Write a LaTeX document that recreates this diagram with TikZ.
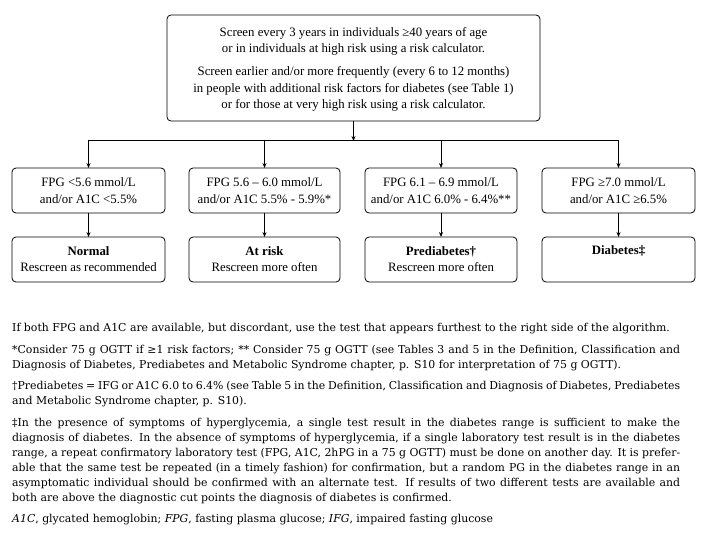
\documentclass[tikz,border=0pt]{standalone}
\usepackage{fontspec}
\setmainfont{Liberation Serif}
\newfontfamily\notefont{DejaVu Serif}
\usetikzlibrary{arrows.meta}
\begin{document}
\begin{tikzpicture}[x=1pt,y=-1pt,
  bx/.style={draw,rounded corners=4pt,line width=0.8pt},
  arr/.style={-{Stealth[length=5pt,width=4pt]},line width=0.8pt},
  bt/.style={font=\fontsize{12.8}{16.5}\selectfont,align=center,inner sep=0pt},
  ft/.style={font=\notefont\fontsize{10.9}{15}\selectfont,anchor=north west,inner sep=0pt,text width=668pt,align=justify}]
\useasboundingbox (0,0) rectangle (707,533);
\draw[bx] (167,15) rectangle (540,121);
\node[bt] (t1) at (353.5,41.5) {Screen every 3 years in individuals ≥40 years of age\\or in individuals at high risk using a risk calculator.};
\node[bt] (t2) at (353.5,89) {Screen earlier and/or more frequently (every 6 to 12 months)\\in people with additional risk factors for diabetes (see Table 1)\\or for those at very high risk using a risk calculator.};
\coordinate (top) at (353.5,121);
\coordinate (j) at (353.5,140);
\draw[line width=0.8pt] (top) -- (j);
\draw[arr] (353.5,139) -- (353.5,141);
\foreach \i/\xa/\xb in {1/12/165,2/189/340,3/365/517,4/542/695}{
  \draw[bx] (\xa,168) rectangle (\xb,213);
  \draw[bx] (\xa,237) rectangle (\xb,282);
  \coordinate (c\i) at ({(\xa+\xb)/2},140);
  \coordinate (a\i) at ({(\xa+\xb)/2},168);
  \coordinate (b\i) at ({(\xa+\xb)/2},213);
  \coordinate (d\i) at ({(\xa+\xb)/2},237);
  \draw[arr] (c\i) -- (a\i);
  \draw[arr] (b\i) -- (d\i);
}
\draw[line width=0.8pt] (c1) -- (c4);
\node[bt] (r1) at (88.5,190.5) {FPG <5.6 mmol/L\\and/or A1C <5.5\%};
\node[bt] (r2) at (264.5,190.5) {FPG 5.6 – 6.0 mmol/L\\and/or A1C 5.5\% - 5.9\%*};
\node[bt] (r3) at (441,190.5) {FPG 6.1 – 6.9 mmol/L\\and/or A1C 6.0\% - 6.4\%**};
\node[bt] (r4) at (618.5,190.5) {FPG ≥7.0 mmol/L\\and/or A1C ≥6.5\%};
\node[bt] (s1) at (88.5,259) {\textbf{Normal}\\Rescreen as recommended};
\node[bt] (s2) at (264.5,259) {\textbf{At risk}\\Rescreen more often};
\node[bt] (s3) at (441,259) {\textbf{Prediabetes†}\\Rescreen more often};
\node[bt] (s4) at (618.5,251) {\textbf{Diabetes‡}};
\node[ft] (p1) at (12,323.5) {If both FPG and A1C are available, but discordant, use the test that appears furthest to the right side of the algorithm.};
\node[ft] (p2) at (12,345) {*Consider 75 g OGTT if ≥1 risk factors; ** Consider 75 g OGTT (see Tables 3 and 5 in the Definition, Classification and\linebreak Diagnosis of Diabetes, Prediabetes and Metabolic Syndrome chapter, p. S10 for interpretation of 75 g OGTT).};
\node[ft] (p3) at (12,381.5) {†Prediabetes = IFG or A1C 6.0 to 6.4\% (see Table 5 in the Definition, Classification and Diagnosis of Diabetes, Prediabetes\linebreak and Metabolic Syndrome chapter, p. S10).};
\node[ft] (p4) at (12,418) {‡In the presence of symptoms of hyperglycemia, a single test result in the diabetes range is sufficient to make the\linebreak diagnosis of diabetes. In the absence of symptoms of hyperglycemia, if a single laboratory test result is in the diabetes\linebreak range, a repeat confirmatory laboratory test (FPG, A1C, 2hPG in a 75 g OGTT) must be done on another day. It is prefer-\linebreak able that the same test be repeated (in a timely fashion) for confirmation, but a random PG in the diabetes range in an\linebreak asymptomatic individual should be confirmed with an alternate test. If results of two different tests are available and\linebreak both are above the diagnostic cut points the diagnosis of diabetes is confirmed.};
\node[ft] (p5) at (12,514.5) {\textit{A1C}, glycated hemoglobin; \textit{FPG}, fasting plasma glucose; \textit{IFG}, impaired fasting glucose};
\end{tikzpicture}
\end{document}
